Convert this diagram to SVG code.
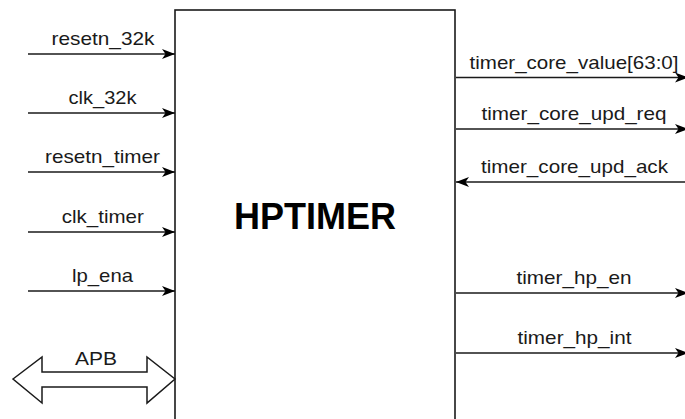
<svg xmlns="http://www.w3.org/2000/svg" width="685" height="419" viewBox="0 0 685 419">
  <style>
    .lbl { font-family: "Liberation Sans", Arial, sans-serif; font-size: 19px; fill: #1a1a1a; text-anchor: middle; }
    .title { font-family: "Liberation Sans", Arial, sans-serif; font-size: 36px; font-weight: bold; fill: #000; text-anchor: middle; }
    .wire { stroke: #1a1a1a; stroke-width: 1.6; fill: none; marker-end: url(#arr); }
    .box { fill: #fff; stroke: #1a1a1a; stroke-width: 1.6; }
  </style>
  <defs>
    <marker id="arr" markerUnits="userSpaceOnUse" markerWidth="14" markerHeight="11" refX="13" refY="5" orient="auto">
      <path d="M0,0 L13,5 L0,10 L3.5,5 Z" fill="#000"/>
    </marker>
  </defs>
  <rect width="685" height="419" fill="#fff"/>
  <g id="hptimer">
    <rect class="box" x="175" y="10" width="280" height="420"/>
    <text class="title" x="315" y="229">HPTIMER</text>
  </g>
  <g id="connectors">
    <line class="wire" x1="28" y1="54" x2="175" y2="54"/>
    <line class="wire" x1="28" y1="113" x2="175" y2="113"/>
    <line class="wire" x1="28" y1="172" x2="175" y2="172"/>
    <line class="wire" x1="28" y1="232" x2="175" y2="232"/>
    <line class="wire" x1="28" y1="291" x2="175" y2="291"/>
    <polygon id="apb-arrow" points="13,379 42,357 42,372 147,372 147,357 175,379 147,403 147,387 42,387 42,403" fill="#fff" stroke="#1a1a1a" stroke-width="1.5"/>
    <line class="wire" x1="456" y1="77.5" x2="688" y2="77.5"/>
    <line class="wire" x1="456" y1="129" x2="688" y2="129"/>
    <line class="wire" x1="685" y1="182" x2="456" y2="182"/>
    <line class="wire" x1="456" y1="293" x2="688" y2="293"/>
    <line class="wire" x1="456" y1="353" x2="688" y2="353"/>
  </g>
  <g id="labels">
    <text class="lbl" x="103" y="45" textLength="103" lengthAdjust="spacingAndGlyphs">resetn_32k</text>
    <text class="lbl" x="102.5" y="104" textLength="68" lengthAdjust="spacingAndGlyphs">clk_32k</text>
    <text class="lbl" x="102.5" y="163" textLength="115" lengthAdjust="spacingAndGlyphs">resetn_timer</text>
    <text class="lbl" x="102.8" y="223" textLength="82" lengthAdjust="spacingAndGlyphs">clk_timer</text>
    <text class="lbl" x="102.5" y="282" textLength="61" lengthAdjust="spacingAndGlyphs">lp_ena</text>
    <text class="lbl" x="96" y="365" textLength="42" lengthAdjust="spacingAndGlyphs">APB</text>
    <text class="lbl" x="574" y="68.5" textLength="209" lengthAdjust="spacingAndGlyphs">timer_core_value[63:0]</text>
    <text class="lbl" x="574" y="120" textLength="185" lengthAdjust="spacingAndGlyphs">timer_core_upd_req</text>
    <text class="lbl" x="574.5" y="173" textLength="187" lengthAdjust="spacingAndGlyphs">timer_core_upd_ack</text>
    <text class="lbl" x="574" y="284" textLength="115" lengthAdjust="spacingAndGlyphs">timer_hp_en</text>
    <text class="lbl" x="574.5" y="344" textLength="114" lengthAdjust="spacingAndGlyphs">timer_hp_int</text>
  </g>
</svg>
